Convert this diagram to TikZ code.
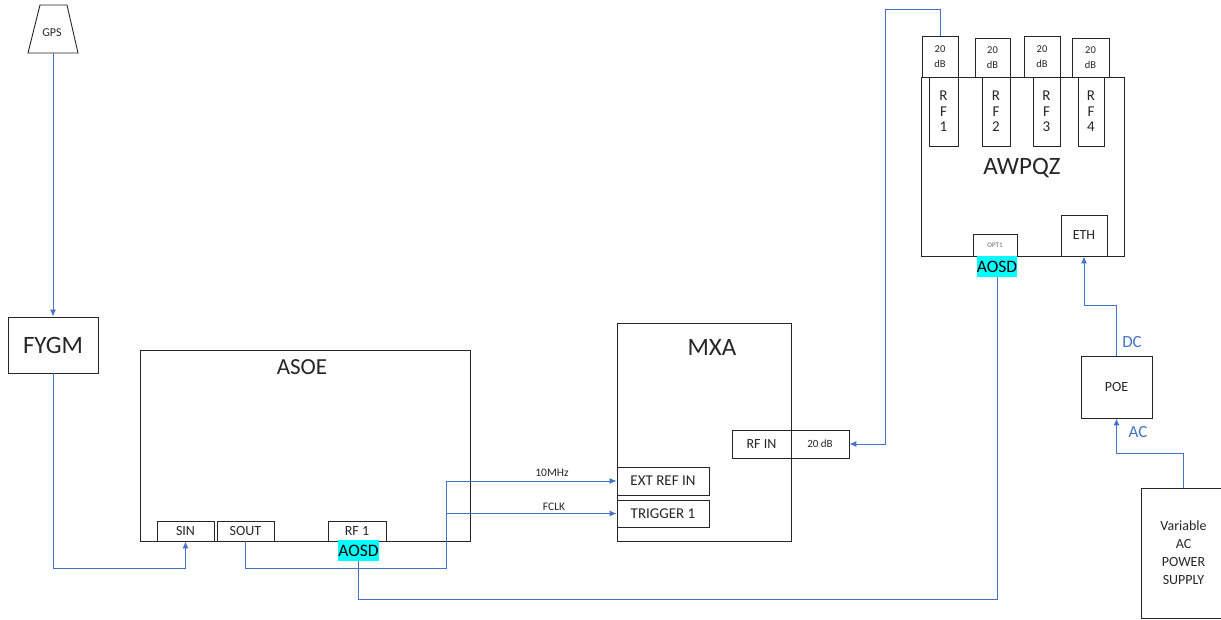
\documentclass[tikz,border=0pt]{standalone}
\usepackage{fontspec}
\setmainfont{Carlito}
\usetikzlibrary{arrows.meta}
\definecolor{wireblue}{HTML}{4472C4}
\definecolor{aquahl}{HTML}{00FFFF}
\definecolor{boxline}{HTML}{262626}
\newcommand{\fsz}[2]{\fontsize{#1}{#2}\selectfont}
\begin{document}
\begin{tikzpicture}[x=1pt,y=-1pt,
  box/.style={draw=boxline, line width=0.9pt, inner sep=0pt, rectangle, align=center, text=boxline},
  wire/.style={draw=wireblue, line width=1pt},
  arr/.style={wire, -{Latex[length=7pt,width=6pt]}},
  hl/.style={fill=aquahl, inner sep=0pt, text=black, font=\fsz{17.5}{18}},
  lbl/.style={inner sep=0pt, text=boxline},
  bluelbl/.style={inner sep=0pt, text=wireblue, font=\fsz{17}{18}}]
\useasboundingbox (0,0) rectangle (1221,620);

% GPS
\draw[draw=boxline, line width=0.9pt] (40,5) -- (67,5) -- (78,53) -- (28,53) -- cycle;
\node[lbl, font=\fsz{12}{12}] (gps) at (52,33) {GPS};
\coordinate (gpsb) at (53,53);

% FYGM
\node[box, minimum width=90, minimum height=56, font=\fsz{25}{25}] (fygm) at (53,345) {FYGM};

% ASOE
\node[box, minimum width=330, minimum height=191] (asoe) at (305,445.5) {};
\node[lbl, font=\fsz{23}{23}] (asoet) at (302,367) {ASOE};
\node[box, minimum width=57, minimum height=20, font=\fsz{14}{14}] (sin) at (185.5,531) {SIN};
\node[box, minimum width=57, minimum height=20, font=\fsz{14}{14}] (sout) at (245.5,531) {SOUT};
\node[box, minimum width=58, minimum height=20, font=\fsz{14}{14}] (rfa) at (357,531) {RF 1};
\node[hl, minimum width=41, minimum height=21] (aosda) at (358.5,550.5) {AOSD};

% MXA
\node[box, minimum width=174, minimum height=218] (mxa) at (704,432) {};
\node[lbl, font=\fsz{25}{25}] (mxat) at (712,347) {MXA};
\node[box, minimum width=59, minimum height=28, font=\fsz{14}{14}] (rfin) at (761.5,444) {RF IN};
\node[box, minimum width=58, minimum height=28, font=\fsz{11}{11}] (db) at (820,444) {20 dB};
\node[box, minimum width=92, minimum height=28, font=\fsz{15}{15}] (ext) at (663,481) {EXT REF IN};
\node[box, minimum width=92, minimum height=27, font=\fsz{15}{15}] (trig) at (663,513.5) {TRIGGER 1};

% AWPQZ
\node[box, minimum width=203, minimum height=179] (awp) at (1022.5,166.5) {};
\node[lbl, font=\fsz{25}{25}] (awpt) at (1022,168) {AWPQZ};
\node[box, minimum width=36, minimum height=41, font=\fsz{10.5}{15}] (a1) at (940,56.5) {20\\dB};
\node[box, minimum width=35, minimum height=39, font=\fsz{10.5}{15}] (a2) at (992.5,57.5) {20\\dB};
\node[box, minimum width=36, minimum height=41, font=\fsz{10.5}{15}] (a3) at (1042,56.5) {20\\dB};
\node[box, minimum width=37, minimum height=39, font=\fsz{10.5}{15}] (a4) at (1090.5,57.5) {20\\dB};
\node[box, minimum width=29, minimum height=69, font=\fsz{15}{15.5}] (r1) at (943.5,111.5) {R\\F\\1};
\node[box, minimum width=28, minimum height=69, font=\fsz{15}{15.5}] (r2) at (996,111.5) {R\\F\\2};
\node[box, minimum width=27, minimum height=69, font=\fsz{15}{15.5}] (r3) at (1046.5,111.5) {R\\F\\3};
\node[box, minimum width=26, minimum height=69, font=\fsz{15}{15.5}] (r4) at (1091,111.5) {R\\F\\4};
\node[box, minimum width=44, minimum height=22, font=\fsz{7}{7}, text=black!60] (opt) at (995,245) {OPT1};
\node[hl, minimum width=40, minimum height=21] (aosdb) at (997,266.5) {AOSD};
\node[box, minimum width=46, minimum height=41, font=\fsz{14}{14}] (eth) at (1084,235.5) {ETH};

% POE and supply
\node[box, minimum width=71, minimum height=62, font=\fsz{14}{14}] (poe) at (1116.5,387) {POE};
\node[box, minimum width=85, minimum height=130, font=\fsz{14}{18}] (ps) at (1183.5,553) {Variable\\AC\\POWER\\SUPPLY};

% helper coordinates
\coordinate (ya) at (0,568);
\coordinate (yb) at (0,599);
\coordinate (jx) at (446,568);
\coordinate (jt) at (446,513.5);
\coordinate (tl) at (885,10);
\coordinate (ydc) at (0,306);
\coordinate (yac) at (0,453);

% wires
\draw[arr] (gpsb) -- (fygm.north);
\draw[arr] (fygm.south) |- (sin.south |- ya) -- (sin.south);
\draw[arr] (sout.south) |- (jx) |- (ext.west);
\draw[arr] (jt) -- (trig.west);
\node[lbl, font=\fsz{11.5}{12}] (l10) at (552,473) {10MHz};
\node[lbl, font=\fsz{11.5}{12}] (lfc) at (554,507) {FCLK};
\draw[wire] (aosda.south) |- (aosdb.south |- yb) -- (aosdb.south);
\draw[arr] (a1.north) |- (tl) |- (db.east);
\draw[arr] (poe.north) |- (eth.south |- ydc) -- (eth.south);
\draw[arr] (ps.north) |- (poe.south |- yac) -- (poe.south);
\node[bluelbl] (dc) at (1132,342) {DC};
\node[bluelbl] (ac) at (1138,432) {AC};
\end{tikzpicture}
\end{document}
